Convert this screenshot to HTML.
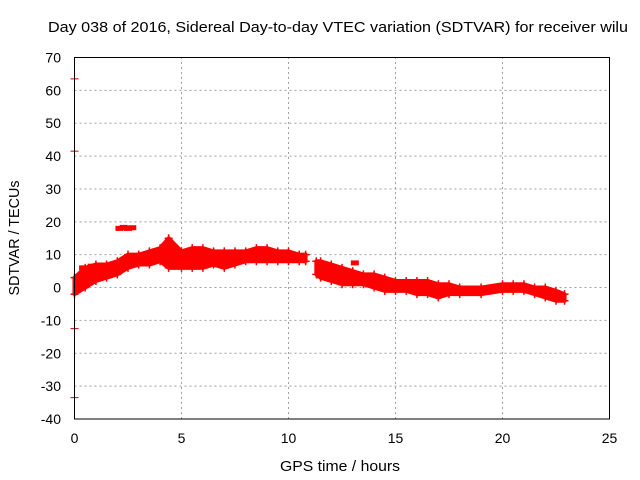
<!DOCTYPE html>
<html><head><meta charset="utf-8"><style>
body{margin:0;background:#fff}
svg{display:block;font-family:"Liberation Sans",sans-serif}
</style></head><body>
<svg id="chart" width="640" height="480" viewBox="0 0 640 480" xmlns="http://www.w3.org/2000/svg">
<text x="48" y="32" font-size="15" textLength="580" lengthAdjust="spacingAndGlyphs" fill="#000">Day 038 of 2016, Sidereal Day-to-day VTEC variation (SDTVAR) for receiver wilu</text>
<text x="340" y="471" font-size="15" textLength="120" lengthAdjust="spacingAndGlyphs" text-anchor="middle" fill="#000">GPS time / hours</text>
<text x="0" y="0" font-size="15" textLength="115" lengthAdjust="spacingAndGlyphs" text-anchor="middle" fill="#000" transform="translate(19,238) rotate(-90)">SDTVAR / TECUs</text>
<g id="grid"></g><g id="ticks"></g><g id="marks"></g>
<rect x="74.5" y="57.5" width="535" height="361.5" fill="none" stroke="#000" stroke-width="1"/>
</svg>
<script>
const xTicks=[0,5,10,15,20,25];
const yTicks=[70,60,50,40,30,20,10,0,-10,-20,-30,-40];
const seg1Hours=[0,0.5,1,1.5,2,2.5,3,3.5,4,4.4,5,5.5,6,6.5,7,7.5,8,8.5,9,9.5,10,10.5,10.8];
const seg1Lower=[-2,0,2,3,4,6,7,7,8,6,6,6,6,7,6,7,8,8,8,8,8,8,8];
const seg1Upper=[3,6,7,7,8,10,10,11,12,15,11,12,12,11,11,11,11,12,12,11,11,10,10];
const seg2Hours=[11.3,11.5,12,12.5,13,13.5,14,14.5,15,15.5,16,16.5,17,17.5,18,19,20,20.5,21,21.5,22,22.5,22.9];
const seg2Lower=[4,3,2,1,1,1,0,-1,-1,-1,-2,-2,-3,-2,-2,-2,-1,-1,-1,-2,-3,-4,-4];
const seg2Upper=[8,8,7,6,5,4,4,3,2,2,2,2,1,1,0,0,1,1,1,0,0,-1,-2];
const outHours=[2.1,2.3,2.5,2.7,13.1,0.4,0.8];
const outValues=[18,18.3,18,18.2,7.5,6,6.5];
const axisHours=[0,0,0,0];
const axisValues=[63.5,41.5,-12.5,-33.5];
const X0=74.5,X1=609.5,Y0=419,Y1=57.5;
const sx=v=>X0+(v-0)/(25-0)*(X1-X0);
const sy=v=>Y0-(v+40)/110*(Y0-Y1);
const NS="http://www.w3.org/2000/svg";
function mk(tag,attrs,parent){const e=document.createElementNS(NS,tag);for(const k in attrs)e.setAttribute(k,attrs[k]);parent.appendChild(e);return e;}
const grid=document.getElementById('grid'),ticks=document.getElementById('ticks'),marks=document.getElementById('marks');
xTicks.forEach(t=>{const x=sx(t);
 if(t>0&&t<25){const g=mk('line',{x1:x,y1:Y0,x2:x,y2:Y1,stroke:'#a0a0a0','stroke-dasharray':'2,3'},grid);
 
 }
 const l=mk('text',{x:x,y:443,'font-size':14,'text-anchor':'middle',fill:'#000'},ticks);l.textContent=t;
 
 });
yTicks.forEach(t=>{const y=sy(t);
 if(t>-40&&t<70){const g=mk('line',{x1:X0,y1:y,x2:X1,y2:y,stroke:'#a0a0a0','stroke-dasharray':'2,3'},grid);
 
 }
 const l=mk('text',{x:61,y:y+5,'font-size':14,'text-anchor':'end',fill:'#000'},ticks);l.textContent=t;
 
 });
function band(h,lo,up,name){
 let pts=h.map((t,i)=>sx(t)+','+sy(up[i]));
 for(let i=h.length-1;i>=0;i--)pts.push(sx(h[i])+','+sy(lo[i]));
 const p=mk('polygon',{points:pts.join(' '),fill:'#ff0000',stroke:'#ff0000','stroke-width':4,'stroke-linejoin':'round'},marks);
 
 
 h.forEach((t,i)=>{[lo[i],up[i]].forEach(v=>{const x=sx(t),y=sy(v);
  const c=mk('path',{d:`M${x-4},${y}H${x+4}M${x},${y-4}V${y+4}`,stroke:'#ff0000','stroke-width':1.5},marks);
  
  });});
}
band(seg1Hours,seg1Lower,seg1Upper,'sdtvar-band-1');
band(seg2Hours,seg2Lower,seg2Upper,'sdtvar-band-2');
outHours.forEach((t,i)=>{const x=sx(t),y=sy(outValues[i]);
 const r=mk('rect',{x:x-4,y:y-2.5,width:8,height:5,fill:'#ff0000'},marks);
 
 });
axisHours.forEach((t,i)=>{const x=sx(t),y=sy(axisValues[i]);
 const c=mk('path',{d:`M${x-4},${y}H${x+4}`,stroke:'#cc0000','stroke-width':1},marks);
 
 });
</script>
</body></html>
